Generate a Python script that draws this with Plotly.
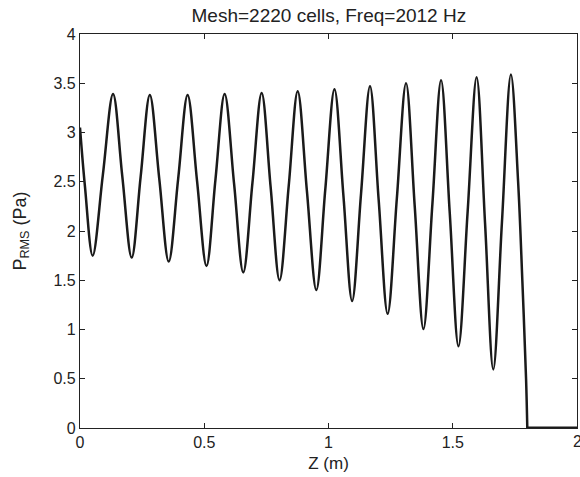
import plotly.graph_objects as go

# Values (Z in m, P_RMS in Pa)
start_z = [0.0, 0.020]
start_p = [3.05, 2.45]

troughs_z = [0.051, 0.208, 0.357, 0.509, 0.657, 0.803, 0.951, 1.095, 1.238, 1.382, 1.523, 1.663]
troughs_p = [1.75, 1.73, 1.69, 1.645, 1.58, 1.50, 1.40, 1.29, 1.16, 1.005, 0.83, 0.595]

peaks_z = [0.133, 0.281, 0.433, 0.582, 0.731, 0.876, 1.024, 1.167, 1.312, 1.453, 1.596, 1.734]
peaks_p = [3.39, 3.38, 3.38, 3.39, 3.40, 3.42, 3.44, 3.47, 3.50, 3.53, 3.56, 3.59]

mid_z = [0.092, 0.170, 0.244, 0.319, 0.395, 0.471, 0.545, 0.620, 0.694, 0.767, 0.840, 0.913,
         0.987, 1.060, 1.131, 1.202, 1.275, 1.347, 1.418, 1.488, 1.560, 1.630, 1.698]
mid_p = [2.57, 2.56, 2.55, 2.53, 2.53, 2.51, 2.52, 2.48, 2.49, 2.45, 2.46, 2.41,
         2.42, 2.36, 2.38, 2.31, 2.33, 2.25, 2.27, 2.18, 2.20, 2.08, 2.09]

drop_z = [1.763, 1.780, 1.795, 1.800]
drop_p = [2.50, 1.50, 0.50, 0.0]

tail_z = [1.800, 2.000]
tail_p = [0.0, 0.0]

x_ticks = [0, 0.5, 1, 1.5, 2]
x_tick_text = ["0", "0.5", "1", "1.5", "2"]
y_ticks = [0, 0.5, 1, 1.5, 2, 2.5, 3, 3.5, 4]
y_tick_text = ["0", "0.5", "1", "1.5", "2", "2.5", "3", "3.5", "4"]

pts = sorted(zip(start_z + troughs_z + peaks_z + mid_z + drop_z,
                 start_p + troughs_p + peaks_p + mid_p + drop_p))
z_all = [p[0] for p in pts]
p_all = [p[1] for p in pts]

fig = go.Figure()
fig.add_trace(go.Scatter(x=z_all, y=p_all, mode="lines",
                         line=dict(color="#1a1a1a", width=2.5, shape="spline", smoothing=1.0),
                         showlegend=False, cliponaxis=False))
fig.add_trace(go.Scatter(x=tail_z, y=tail_p, mode="lines",
                         line=dict(color="#1a1a1a", width=3),
                         showlegend=False, cliponaxis=False))

font_family = "Liberation Sans, Arial, Helvetica, sans-serif"
fig.update_layout(
    width=580, height=477,
    margin=dict(l=80, r=3, t=34, b=49, autoexpand=False),
    paper_bgcolor="white", plot_bgcolor="white",
    font=dict(family=font_family, color="#222222", size=16),
    title=dict(text="Mesh=2220 cells, Freq=2012 Hz", x=0.567, xanchor="center",
               y=1 - 15 / 477, yanchor="middle", yref="container",
               font=dict(size=19, family=font_family, color="#222222")),
)
# last tick label sits on the figure edge; draw it as an annotation so it is not dropped
fig.add_annotation(x=x_ticks[-1], y=0, xref="x", yref="paper", text=x_tick_text[-1],
                   showarrow=False, xanchor="center", yanchor="top", yshift=-3,
                   font=dict(size=16, family=font_family, color="#222222"))
fig.update_xaxes(range=[0, 2], tickvals=x_ticks[:-1], ticktext=x_tick_text[:-1], automargin=False,
                 ticks="inside", ticklen=5, tickcolor="#222222", showline=True, linecolor="#222222",
                 linewidth=1.2, mirror="ticks", showgrid=False, zeroline=False,
                 tickfont=dict(size=16),
                 title=dict(text="Z (m)", standoff=6, font=dict(size=17)))
fig.update_yaxes(range=[0, 4], tickvals=y_ticks, ticktext=y_tick_text, automargin=False,
                 ticks="inside", ticklen=5, tickcolor="#222222", showline=True, linecolor="#222222",
                 linewidth=1.2, mirror="ticks", showgrid=False, zeroline=False,
                 tickfont=dict(size=16),
                 title=dict(text="P<sub>RMS</sub> (Pa)", standoff=22, font=dict(size=18)))

fig.write_html("out.html", config={"displayModeBar": False},
               post_script="document.body.style.margin='0';")
